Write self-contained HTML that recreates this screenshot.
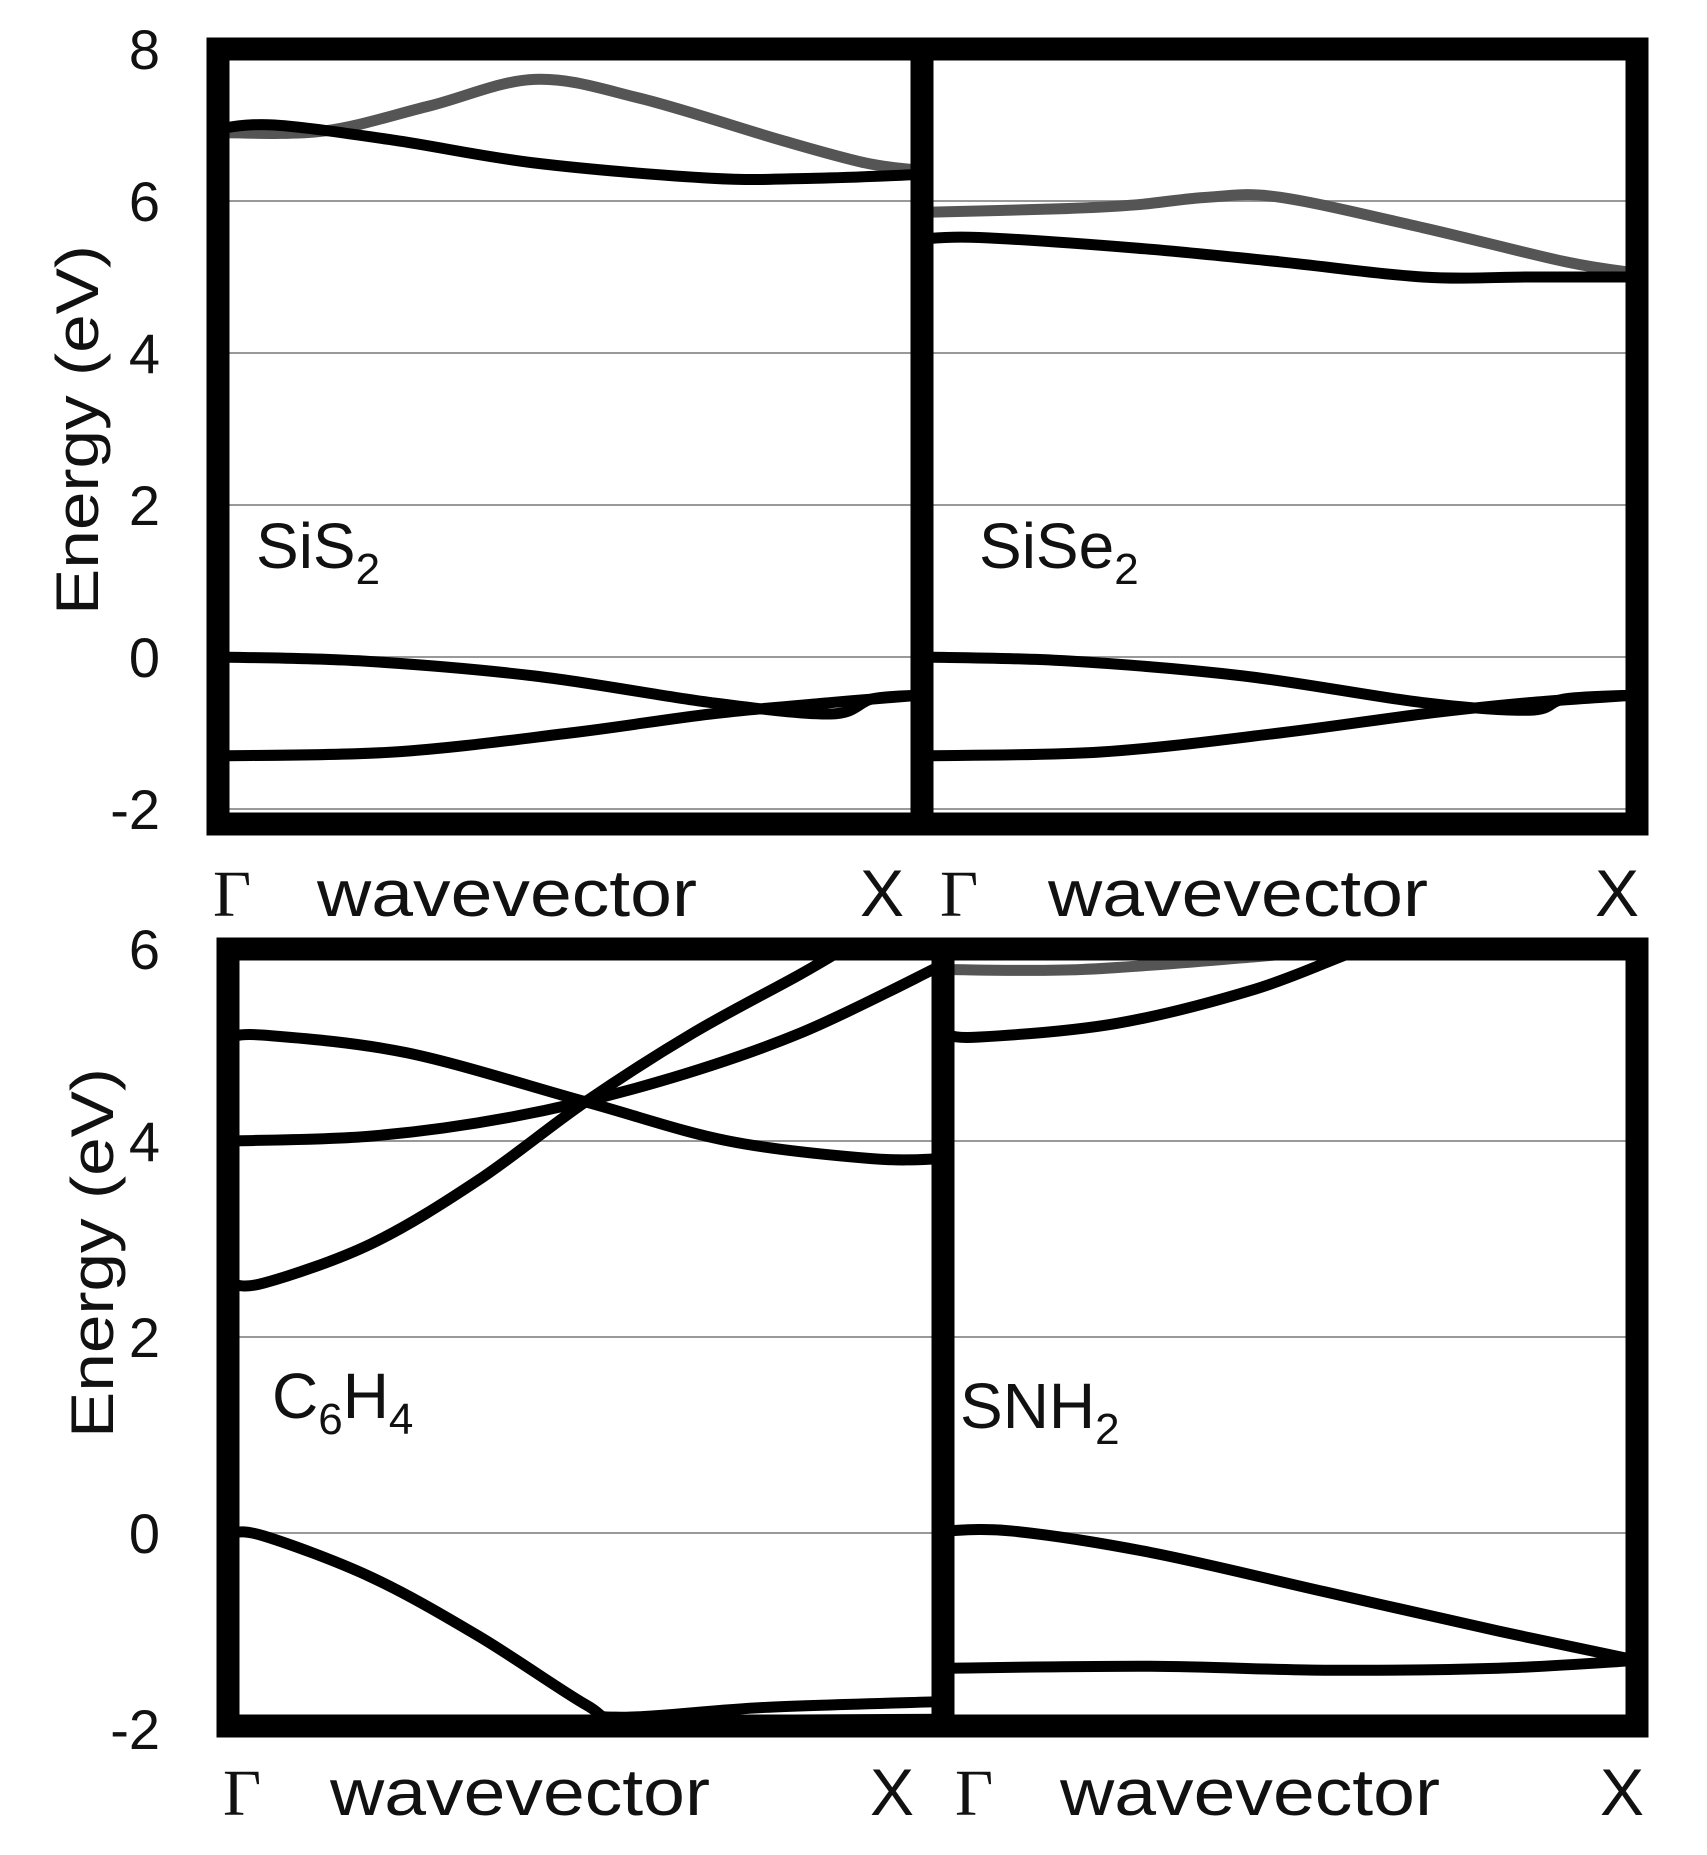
<!DOCTYPE html>
<html><head><meta charset="utf-8"><style>
html,body{margin:0;padding:0;background:#fff;}
svg{display:block;}
text{font-family:"Liberation Sans",sans-serif;fill:#111;}
</style></head><body>
<svg id="s" width="1707" height="1855" viewBox="0 0 1707 1855" xmlns="http://www.w3.org/2000/svg">
<g id="grid" stroke="#999" stroke-width="2"></g>
<g id="curves" fill="none" stroke-width="11" stroke-linecap="round" stroke-linejoin="round"></g>
<g fill="none" stroke="#000" stroke-width="23">
<rect x="218" y="49" width="1419" height="775"/>
<line x1="922" y1="49" x2="922" y2="824"/>
<rect x="228" y="949" width="1409" height="777"/>
<line x1="943" y1="949" x2="943" y2="1726"/>
</g>
<g font-size="56" text-anchor="end">
<text x="160" y="69">8</text><text x="160" y="221">6</text><text x="160" y="373">4</text>
<text x="160" y="525">2</text><text x="160" y="677">0</text><text x="160" y="829">-2</text>
<text x="160" y="969">6</text><text x="160" y="1161">4</text><text x="160" y="1357">2</text>
<text x="160" y="1553">0</text><text x="160" y="1749">-2</text>
</g>
<text transform="translate(98,430) rotate(-90)" font-size="60" text-anchor="middle" textLength="370" lengthAdjust="spacingAndGlyphs">Energy (eV)</text>
<text transform="translate(113,1253) rotate(-90)" font-size="60" text-anchor="middle" textLength="370" lengthAdjust="spacingAndGlyphs">Energy (eV)</text>
<g font-size="66">
<text x="213" y="916" style="font-family:'Liberation Serif',serif">Γ</text>
<text x="317" y="916" textLength="380" lengthAdjust="spacingAndGlyphs">wavevector</text>
<text x="860" y="916">X</text>
<text x="940" y="916" style="font-family:'Liberation Serif',serif">Γ</text>
<text x="1048" y="916" textLength="380" lengthAdjust="spacingAndGlyphs">wavevector</text>
<text x="1595" y="916">X</text>
<text x="223" y="1815" style="font-family:'Liberation Serif',serif">Γ</text>
<text x="330" y="1815" textLength="380" lengthAdjust="spacingAndGlyphs">wavevector</text>
<text x="870" y="1815">X</text>
<text x="955" y="1815" style="font-family:'Liberation Serif',serif">Γ</text>
<text x="1060" y="1815" textLength="380" lengthAdjust="spacingAndGlyphs">wavevector</text>
<text x="1600" y="1815">X</text>
</g>
<g font-size="64">
<text x="256" y="568">SiS<tspan font-size="44" dy="16">2</tspan></text>
<text x="979" y="568">SiSe<tspan font-size="44" dy="16">2</tspan></text>
<text x="272" y="1418">C<tspan font-size="44" dy="16">6</tspan><tspan dy="-16">H</tspan><tspan font-size="44" dy="16">4</tspan></text>
<text x="960" y="1428">SNH<tspan font-size="44" dy="16">2</tspan></text>
</g>
</svg>
<script>
(function(){
var NS="http://www.w3.org/2000/svg";
var grid=document.getElementById('grid'),cv=document.getElementById('curves');
function line(x1,y1,x2,y2){var l=document.createElementNS(NS,'line');l.setAttribute('x1',x1);l.setAttribute('y1',y1);l.setAttribute('x2',x2);l.setAttribute('y2',y2);grid.appendChild(l);}
[8,6,4,2,0,-2].forEach(function(e){var y=657-76*e;line(218,y,1637,y);});
[6,4,2,0,-2].forEach(function(e){var y=1533-98*e;line(228,y,1637,y);});
var P=[{x0:218,x1:922,ymin:0,y:function(e){return 657-76*e;}},{x0:922,x1:1637,ymin:0,y:function(e){return 657-76*e;}},
{x0:228,x1:943,ymin:945,y:function(e){return 1533-98*e;}},{x0:943,x1:1637,ymin:945,y:function(e){return 1533-98*e;}}];
function curve(p,pts,col){
 var q=pts.map(function(a){return [p.x0+a[0]*(p.x1-p.x0),Math.max(p.y(a[1]),p.ymin)];});
 var d='M'+q[0][0]+','+q[0][1];
 for(var i=0;i<q.length-1;i++){
  var p0=q[i-1]||q[i],p1=q[i],p2=q[i+1],p3=q[i+2]||p2;
  var c1=[p1[0]+(p2[0]-p0[0])/6,p1[1]+(p2[1]-p0[1])/6],c2=[p2[0]-(p3[0]-p1[0])/6,p2[1]-(p3[1]-p1[1])/6];
  d+=' C'+c1+' '+c2+' '+p2;
 }
 var el=document.createElementNS(NS,'path');el.setAttribute('d',d);el.setAttribute('stroke',col||'#000');cv.appendChild(el);
}
var G='#555';
curve(P[0],[[0,6.9],[0.15,6.92],[0.3,7.25],[0.45,7.6],[0.6,7.35],[0.8,6.8],[0.92,6.5],[1,6.4]],G);
curve(P[0],[[0,6.95],[0.08,7.0],[0.25,6.8],[0.45,6.5],[0.7,6.3],[0.85,6.3],[1,6.35]]);
curve(P[0],[[0,0.0],[0.2,-0.05],[0.45,-0.25],[0.7,-0.6],[0.87,-0.75],[0.93,-0.55],[1,-0.5]]);
curve(P[0],[[0,-1.3],[0.25,-1.25],[0.5,-1.0],[0.7,-0.75],[0.87,-0.6],[1,-0.5]]);
curve(P[1],[[0,5.85],[0.2,5.9],[0.3,5.95],[0.4,6.05],[0.5,6.05],[0.7,5.65],[0.9,5.2],[1,5.05]],G);
curve(P[1],[[0,5.5],[0.08,5.52],[0.3,5.38],[0.5,5.2],[0.7,5.0],[0.85,5.0],[1,5.0]]);
curve(P[1],[[0,0.0],[0.2,-0.05],[0.45,-0.25],[0.7,-0.6],[0.85,-0.7],[0.9,-0.55],[1,-0.5]]);
curve(P[1],[[0,-1.3],[0.25,-1.25],[0.5,-1.0],[0.7,-0.75],[0.85,-0.6],[1,-0.5]]);
curve(P[2],[[0,5.05],[0.05,5.08],[0.25,4.9],[0.5,4.4],[0.7,4.0],[0.9,3.82],[1,3.82]]);
curve(P[2],[[0,4.0],[0.2,4.05],[0.4,4.25],[0.6,4.6],[0.8,5.1],[1,5.8]]);
curve(P[2],[[0,2.55],[0.05,2.55],[0.2,2.95],[0.35,3.6],[0.5,4.4],[0.65,5.1],[0.8,5.7],[0.87,6.0]]);
curve(P[2],[[0,0.0],[0.05,-0.03],[0.2,-0.45],[0.35,-1.05],[0.5,-1.75],[0.55,-1.88],[0.75,-1.78],[1,-1.72]]);
curve(P[2],[[0,-1.95],[0.3,-1.95],[0.55,-1.92],[1,-1.9]]);
curve(P[3],[[0,5.75],[0.2,5.75],[0.45,5.88],[0.6,5.98],[0.7,6.0]],G);
curve(P[3],[[0,5.1],[0.05,5.06],[0.25,5.2],[0.45,5.55],[0.6,5.95],[0.65,6.0]]);
curve(P[3],[[0,0.02],[0.1,0.02],[0.3,-0.2],[0.55,-0.6],[0.8,-1.0],[1,-1.3]]);
curve(P[3],[[0,-1.38],[0.3,-1.36],[0.55,-1.4],[0.8,-1.38],[1,-1.3]]);
})();
</script>
</body></html>
